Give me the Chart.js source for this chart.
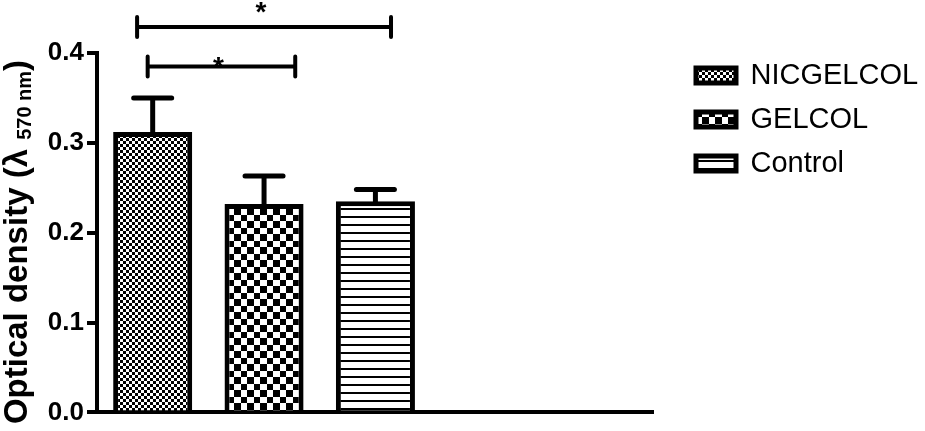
<!DOCTYPE html>
<html>
<head>
<meta charset="utf-8">
<script src="https://cdn.jsdelivr.net/npm/chart.js@4.4.1/dist/chart.umd.min.js"></script>
<style>
html,body{margin:0;padding:0;background:#fff;}
#wrap{width:925px;height:431px;}
</style>
</head>
<body>
<div id="wrap"><canvas id="c" width="925" height="431"></canvas></div>
<script>
// ---- data ----
const slots = ['NICGELCOL', 'GELCOL', 'Control', '', ''];
const seriesNames = ['NICGELCOL', 'GELCOL', 'Control'];
const means = [0.312, 0.232, 0.235];
const sems = [0.038, 0.031, 0.013];
const yTicks = [0.0, 0.1, 0.2, 0.3, 0.4];
// significance brackets (in data units: category index / optical density)
const bracketFrom = [-0.14, -0.045];
const bracketTo = [2.14, 1.28];
const bracketY = [0.429, 0.385];
const bracketStarY = [0.453, 0.392];
const bracketLabels = ['*', '*'];

// ---- patterns ----
function makePattern(kind) {
  const c = document.createElement('canvas');
  let g;
  if (kind === 'fine') {
    c.width = c.height = 6; g = c.getContext('2d');
    g.fillStyle = '#fff'; g.fillRect(0, 0, 6, 6);
    g.fillStyle = '#000'; g.fillRect(0, 0, 3, 3); g.fillRect(3, 3, 3, 3);
  } else if (kind === 'coarse') {
    c.width = c.height = 13; g = c.getContext('2d');
    g.fillStyle = '#fff'; g.fillRect(0, 0, 13, 13);
    g.fillStyle = '#000'; g.fillRect(0, 0, 7, 7); g.fillRect(7, 7, 6, 6);
  } else {
    c.width = 8; c.height = 8; g = c.getContext('2d');
    g.fillStyle = '#fff'; g.fillRect(0, 0, 8, 8);
    g.fillStyle = '#000'; g.fillRect(0, 0, 8, 2);
  }
  return g.createPattern(c, 'repeat');
}
const fills = [makePattern('fine'), makePattern('coarse'), makePattern('lines')];

const datasets = seriesNames.map((name, i) => ({
  label: name,
  data: slots.map((_, j) => (j === i ? means[i] : null)),
  backgroundColor: fills[i],
  borderColor: '#000',
  borderWidth: 5,
  borderSkipped: 'start',
  grouped: false,
  barPercentage: 0.71,
  categoryPercentage: 1.0
}));

Chart.defaults.font.family = "'Liberation Sans', Arial, Helvetica, sans-serif";
Chart.defaults.color = '#000';

const errorBars = {
  id: 'errorBars',
  afterDatasetsDraw(chart) {
    const ctx = chart.ctx, ys = chart.scales.y;
    ctx.save();
    ctx.strokeStyle = '#000';
    ctx.lineWidth = 5;
    seriesNames.forEach((_, i) => {
      const meta = chart.getDatasetMeta(i);
      const el = meta.data[i];
      if (!el) return;
      const x = el.x, yTop = el.y;
      const yErr = ys.getPixelForValue(means[i] + sems[i]);
      ctx.lineCap = 'butt';
      ctx.beginPath(); ctx.moveTo(x, yTop + 2); ctx.lineTo(x, yErr); ctx.stroke();
      ctx.lineCap = 'round';
      ctx.beginPath(); ctx.moveTo(x - 19, yErr); ctx.lineTo(x + 19, yErr); ctx.stroke();
    });
    ctx.restore();
  }
};

const brackets = {
  id: 'brackets',
  afterDraw(chart) {
    const ctx = chart.ctx, xs = chart.scales.x, ys = chart.scales.y;
    ctx.save();
    ctx.strokeStyle = '#000';
    ctx.fillStyle = '#000';
    bracketFrom.forEach((f, k) => {
      const x1 = xs.getPixelForValue(f), x2 = xs.getPixelForValue(bracketTo[k]);
      const y = ys.getPixelForValue(bracketY[k]);
      ctx.lineWidth = 4;
      ctx.lineCap = 'butt';
      ctx.beginPath(); ctx.moveTo(x1, y); ctx.lineTo(x2, y); ctx.stroke();
      ctx.lineCap = 'round';
      ctx.beginPath();
      ctx.moveTo(x1, y - 10); ctx.lineTo(x1, y + 10);
      ctx.moveTo(x2, y - 10); ctx.lineTo(x2, y + 10);
      ctx.stroke();
      ctx.font = "bold 28px 'Liberation Sans', Arial, sans-serif";
      ctx.textAlign = 'center';
      ctx.textBaseline = 'alphabetic';
      const sy = ys.getPixelForValue(bracketStarY[k]);
      ctx.fillText(bracketLabels[k], (x1 + x2) / 2 - 3, sy + 16);
    });
    ctx.restore();
  }
};

const yTitle = {
  id: 'yTitle',
  afterDraw(chart) {
    const ctx = chart.ctx;
    const parts = [
      {t: 'Optical density (\u03bb ', f: "bold 33px 'Liberation Sans', Arial, sans-serif", dy: 0},
      {t: '570 nm', f: "bold 20px 'Liberation Sans', Arial, sans-serif", dy: 4},
      {t: ')', f: "bold 33px 'Liberation Sans', Arial, sans-serif", dy: 0}
    ];
    ctx.save();
    let total = 0;
    parts.forEach(p => { ctx.font = p.f; p.w = ctx.measureText(p.t).width; total += p.w; });
    ctx.translate(27, 242);
    ctx.rotate(-Math.PI / 2);
    ctx.fillStyle = '#000';
    ctx.textAlign = 'left';
    ctx.textBaseline = 'alphabetic';
    let x = -total / 2;
    parts.forEach(p => { ctx.font = p.f; ctx.fillText(p.t, x, p.dy); x += p.w; });
    ctx.restore();
  }
};

// place the legend block where the reference has it
const legendPlace = {
  id: 'legendPlace',
  afterLayout(chart) {
    const lg = chart.legend;
    if (!lg) return;
    const h = lg.bottom - lg.top;
    lg.left = 681; lg.right = 925; lg.width = 244;
    lg.top = 46; lg.bottom = 46 + h;
  }
};

new Chart(document.getElementById('c'), {
  type: 'bar',
  data: { labels: slots, datasets },
  plugins: [errorBars, brackets, yTitle, legendPlace],
  options: {
    responsive: false,
    animation: false,
    layout: { padding: { left: 0, right: 0, top: 53, bottom: 0 } },
    plugins: {
      tooltip: { enabled: false },
      legend: {
        position: 'right',
        align: 'start',
        labels: {
          boxWidth: 40,
          boxHeight: 15,
          padding: 15,
          color: '#000',
          font: { size: 29 }
        }
      }
    },
    scales: {
      x: {
        type: 'category',
        offset: true,
        z: 1,
        grid: { display: false },
        ticks: { display: false },
        border: { display: true, color: '#000', width: 4 },
        afterFit(s) { s.height = 11; }
      },
      y: {
        min: 0,
        max: 0.4,
        afterBuildTicks(s) { s.ticks = yTicks.map(v => ({ value: v })); },
        ticks: {
          padding: 3,
          color: '#000',
          font: { size: 26, weight: 'bold' },
          callback: v => Number(v).toFixed(1)
        },
        grid: { drawOnChartArea: false, drawTicks: true, tickLength: 10, lineWidth: 4, color: '#000' },
        border: { display: true, color: '#000', width: 4 },
        afterFit(s) { s.width = 97; }
      },
      spacer: {
        type: 'linear',
        position: 'right',
        display: true,
        grid: { display: false },
        ticks: { display: false },
        border: { display: false },
        afterFit(s) { s.width = 117; }
      }
    }
  }
});
</script>
</body>
</html>
